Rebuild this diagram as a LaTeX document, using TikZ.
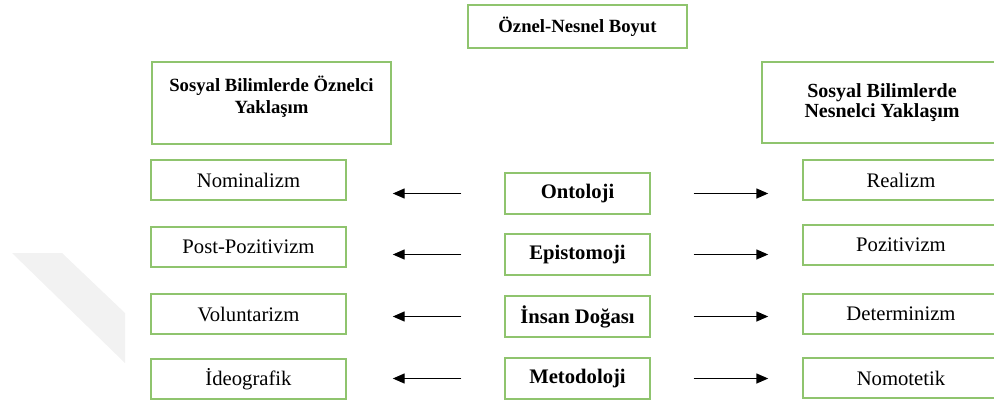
\documentclass[tikz,border=0pt]{standalone}
\usepackage{fontspec}
\setmainfont{Liberation Serif}
\usetikzlibrary{arrows.meta}
\definecolor{boxgreen}{RGB}{143,196,110}
\tikzset{
	kutu/.style={draw=boxgreen, line width=1.1pt, inner sep=0pt, align=center},
	baslik/.style={kutu, font=\bfseries\fontsize{14}{16.5}\selectfont},
	terim/.style={kutu, minimum width=146.25pt, minimum height=30pt, font=\fontsize{15.5}{18}\selectfont},
	eksen/.style={kutu, minimum width=108.75pt, minimum height=30.75pt, font=\bfseries\fontsize{15.5}{18}\selectfont},
	ok/.style={line width=1.1pt, -{Triangle[length=9pt,width=7.5pt]}},
	solok/.style={ok, shorten <=32.25pt, shorten >=34.5pt},
	sagok/.style={ok, shorten <=32.25pt, shorten >=25.5pt}
}

\begin{document}
\begin{tikzpicture}[x=0.75pt, y=-0.75pt]
		%%%%% START %%%%%
		\useasboundingbox (0, 0) rectangle (994, 403);
		\fill[black!5] (12, 253) -- (62, 253) -- (125, 313) -- (125, 363) -- cycle;
		
		\node[baslik, minimum width=164.25pt, minimum height=32.25pt] (boyut) at (577.5, 26.5) {Öznel-Nesnel Boyut};
		\node[baslik, minimum width=179.25pt, minimum height=61.5pt,
			label={[font=\bfseries\fontsize{14}{16.5}\selectfont, align=center, yshift=4.5pt]center:Sosyal Bilimlerde Öznelci\\Yaklaşım}] (oznelci) at (271.5, 103) {};
		\node[baslik, minimum width=180pt, minimum height=60.75pt, font=\bfseries\fontsize{15}{15.5}\selectfont] (nesnelci) at (882, 102.5) {Sosyal Bilimlerde\\Nesnelci Yaklaşım};
		
		\node[terim] (nom) at (248.5, 180) {Nominalizm};
		\node[terim] (postpoz) at (248.5, 247) {Post-Pozitivizm};
		\node[terim] (vol) at (248.5, 314) {Voluntarizm};
		\node[terim] (ideo) at (248.5, 379) {İdeografik};
		
		\node[eksen] (onto) at (577.5, 193.5) {Ontoloji};
		\node[eksen] (epis) at (577.5, 254.5) {Epistomoji};
		\node[eksen] (insan) at (577.5, 316.5) {İnsan Doğası};
		\node[eksen] (meto) at (577.5, 378.5) {Metodoloji};
		
		\node[terim, minimum width=147pt] (real) at (901, 180) {Realizm};
		\node[terim, minimum width=147pt] (poz) at (901, 245) {Pozitivizm};
		\node[terim, minimum width=147pt] (det) at (901, 314) {Determinizm};
		\node[terim, minimum width=147pt] (nomo) at (901, 378) {Nomotetik};
		
		\draw[solok] (onto) -- (onto -| nom.east);
		\draw[sagok] (onto) -- (onto -| real.west);
		\draw[solok] (epis) -- (epis -| postpoz.east);
		\draw[sagok] (epis) -- (epis -| poz.west);
		\draw[solok] (insan) -- (insan -| vol.east);
		\draw[sagok] (insan) -- (insan -| det.west);
		\draw[solok] (meto) -- (meto -| ideo.east);
		\draw[sagok] (meto) -- (meto -| nomo.west);
		%%%%% END %%%%%
	\end{tikzpicture}
\end{document}
